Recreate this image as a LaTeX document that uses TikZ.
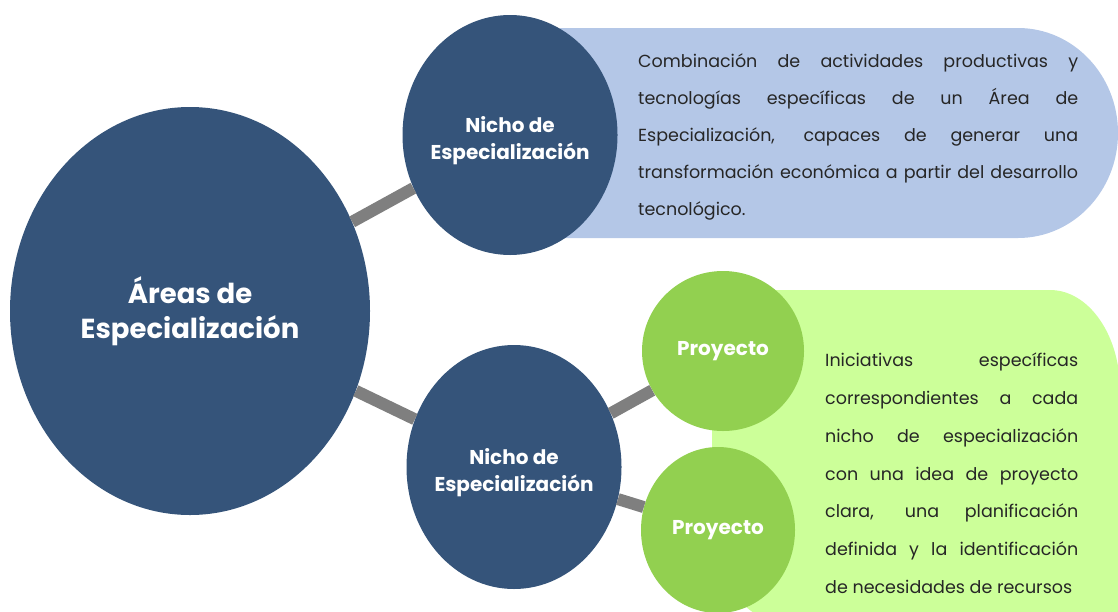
\documentclass[tikz,border=0pt]{standalone}
\usepackage{fontspec}
\setmainfont{Poppins}
\usetikzlibrary{shapes.geometric}

\definecolor{azul}{HTML}{35547A}
\definecolor{cajaAzul}{HTML}{B4C7E7}
\definecolor{verde}{HTML}{92D050}
\definecolor{cajaVerde}{HTML}{CCFF99}
\definecolor{gris}{HTML}{7F7F7F}

\begin{document}
\begin{tikzpicture}[x=1pt,y=-1pt,
    circulo/.style={ellipse,fill=azul,inner xsep=-8pt,inner ysep=0pt,text=white,align=center,font=\bfseries\fontsize{20}{27}\selectfont},
    proyecto/.style={ellipse,fill=verde,inner sep=0pt,text=white,font=\bfseries\fontsize{20}{22}\selectfont},
    conector/.style={draw=gris,line width=12pt},
    texto/.style={anchor=north west,inner sep=0pt,align=justify,text=black!85,font=\fontsize{17.5}{37}\selectfont}]

\clip (0,0) rectangle (1118,611);

% cajas de fondo
\fill[cajaAzul] (560,28) -- (1018,28) arc[start angle=-90,end angle=90,x radius=100,y radius=105] -- (560,238) -- cycle;
\fill[cajaVerde] (712,290) -- (1050,290) arc[start angle=-90,end angle=0,x radius=70,y radius=100] -- (1120,625) -- (792,625) arc[start angle=90,end angle=180,x radius=80,y radius=100] -- cycle;

% nodos
\node[circulo,inner xsep=0pt,minimum width=360pt,minimum height=408pt,font=\bfseries\fontsize{27.5}{35}\selectfont] (area) at (190,311) {Áreas de\\Especialización};
\node[circulo,minimum width=215pt,minimum height=240pt] (nichoA) at (510,135) {\rule{0pt}{27pt}Nicho de\\Especialización};
\node[circulo,minimum width=215pt,minimum height=244pt] (nichoB) at (514,467) {\rule{0pt}{27pt}Nicho de\\Especialización};
\node[proyecto,minimum width=162pt,minimum height=160pt] (proyA) at (723,351) {Proyecto};
\node[proyecto,minimum width=154pt,minimum height=166pt] (proyB) at (718,530) {Proyecto};

\draw[conector] (area) -- (nichoA);
\draw[conector] (area) -- (nichoB);
\draw[conector] (nichoB) -- (proyA);
\draw[conector] (nichoB) -- (proyB);

% textos
\node[texto,text width=440pt] (descA) at (638,41) {\strut Combinación de actividades productivas y\linebreak tecnologías específicas de un Área de\linebreak Especialización, capaces de generar una\linebreak transformación económica a partir del desarrollo\linebreak tecnológico.};
\node[texto,text width=253pt,font=\fontsize{17.5}{37.8}\selectfont] (descB) at (825,340) {\strut Iniciativas específicas\linebreak correspondientes a cada\linebreak nicho de especialización\linebreak con una idea de proyecto\linebreak clara, una planificación\linebreak definida y la identificación\linebreak de necesidades de recursos};

\end{tikzpicture}
\end{document}
